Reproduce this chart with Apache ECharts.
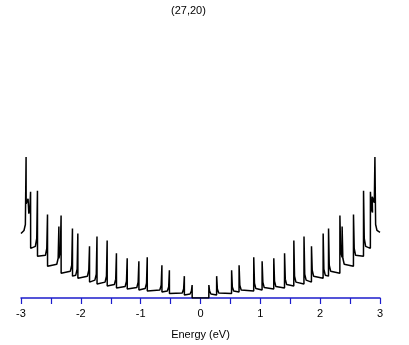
<!DOCTYPE html>
<html>
<head>
<meta charset="utf-8">
<style>
	html,body{margin:0;padding:0;background:#fff}
	#chart{width:409px;height:345px}
</style>
<script src="https://cdn.jsdelivr.net/npm/echarts@6/dist/echarts.min.js"></script>
</head>
<body>
<div id="chart"></div>
<script>
	// 左側 (E<0) の van Hove 特異点
	var eLeft     = [-2.915, -2.870, -2.840, -2.725, -2.557, -2.367, -2.330, -2.140, -2.050, -1.855, -1.730, -1.560, -1.405, -1.225, -1.030, -0.890, -0.645, -0.520, -0.270, -0.140];
	var peakLeft  = [1.42, 1.02, 1.07, 1.08, 0.84, 0.72, 0.83, 0.70, 0.65, 0.52, 0.62, 0.58, 0.45, 0.40, 0.37, 0.41, 0.33, 0.28, 0.22, 0.13];
	var kneeLeft  = [0.68, 0.96, 0.86, 0.52, 0.43, 0.34, 0.41, 0.27, 0.23, 0.22, 0.18, 0.16, 0.135, 0.115, 0.105, 0.095, 0.08, 0.07, 0.05, 0.04];
	var footLeft  = [0.74, 1.00, 0.90, 0.60, 0.50, 0.40, 0.48, 0.33, 0.29, 0.28, 0.24, 0.22, 0.19, 0.17, 0.16, 0.15, 0.13, 0.11, 0.09, 0.07];
	var floorLeft = [0.95, 0.85, 0.50, 0.42, 0.32, 0.40, 0.25, 0.22, 0.20, 0.16, 0.14, 0.12, 0.10, 0.09, 0.08, 0.07, 0.06, 0.045, 0.03, 0.00];
	// 右側 (E>0)
	var eRight     = [0.140, 0.270, 0.520, 0.645, 0.890, 1.030, 1.225, 1.405, 1.560, 1.730, 1.855, 2.050, 2.140, 2.330, 2.367, 2.557, 2.725, 2.840, 2.870, 2.915];
	var peakRight  = [0.13, 0.22, 0.28, 0.33, 0.41, 0.37, 0.40, 0.45, 0.58, 0.62, 0.52, 0.65, 0.70, 0.83, 0.72, 0.84, 1.08, 1.07, 1.02, 1.42];
	var floorRight = [0.00, 0.03, 0.045, 0.06, 0.07, 0.08, 0.09, 0.10, 0.12, 0.14, 0.16, 0.20, 0.22, 0.25, 0.40, 0.32, 0.42, 0.50, 0.85, 0.95];
	var footRight  = [0.07, 0.09, 0.11, 0.13, 0.15, 0.16, 0.17, 0.19, 0.22, 0.24, 0.28, 0.29, 0.33, 0.48, 0.40, 0.50, 0.60, 0.90, 1.00, 0.74];
	var kneeRight  = [0.04, 0.05, 0.07, 0.08, 0.095, 0.105, 0.115, 0.135, 0.16, 0.18, 0.22, 0.23, 0.27, 0.41, 0.34, 0.43, 0.52, 0.86, 0.96, 0.68];
	// 両端
	var edgeE   = [-3.0, 3.0];
	var edgeDos = [0.65, 0.66];
	var xTicks  = [-3, -2, -1, 0, 1, 2, 3];

	var dos = [[edgeE[0], edgeDos[0]]];
	for (var i = 0; i < eLeft.length; i++) {
		dos.push([eLeft[i] - 0.035, kneeLeft[i]]);
		dos.push([eLeft[i] - 0.012, footLeft[i]]);
		dos.push([eLeft[i], peakLeft[i]]);
		dos.push([eLeft[i] + 0.001, floorLeft[i]]);
	}
	for (var j = 0; j < eRight.length; j++) {
		dos.push([eRight[j] - 0.001, floorRight[j]]);
		dos.push([eRight[j], peakRight[j]]);
		dos.push([eRight[j] + 0.012, footRight[j]]);
		dos.push([eRight[j] + 0.035, kneeRight[j]]);
	}
	dos.push([edgeE[1], edgeDos[1]]);

	var myChart = echarts.init(document.getElementById('chart'));
	var option = {
		animation: false,
		backgroundColor: '#fff',
		textStyle: {fontFamily: 'Liberation Sans'},
		title: {
			text: '(27,20)',
			left: 166,
			top: 0,
			textStyle: {fontSize: 11, fontWeight: 'normal', color: '#000', fontFamily: 'Liberation Sans'}
		},
		grid: {left: 21, right: 29, top: 20, bottom: 45},
		xAxis: {
			type: 'value',
			min: -3,
			max: 3,
			interval: 0.5,
			name: 'Energy (eV)',
			nameLocation: 'middle',
			nameGap: 31,
			nameTextStyle: {fontSize: 11, color: '#000'},
			axisLine: {lineStyle: {color: '#1c1ccc', width: 1.5}},
			axisTick: {length: 6, lineStyle: {color: '#1c1ccc', width: 1.2}},
			splitLine: {show: false},
			axisLabel: {
				margin: 10,
				fontSize: 11,
				color: '#000',
				formatter: function (v) {
					return xTicks.indexOf(v) >= 0 ? String(v) : '';
				}
			}
		},
		yAxis: {
			type: 'value',
			min: 0,
			max: 2.8,
			show: false
		},
		series: [{
			type: 'line',
			data: dos,
			symbol: 'none',
			lineStyle: {color: '#000', width: 1.5}
		}]
	};
	myChart.setOption(option);
</script>
</body>
</html>
